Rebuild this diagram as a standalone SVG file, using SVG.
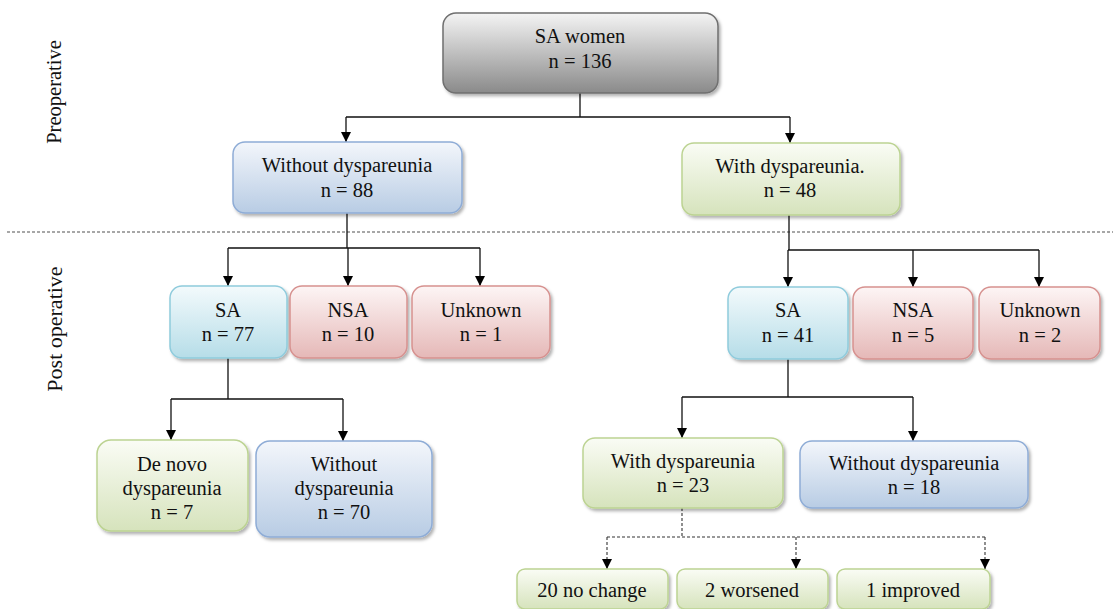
<svg xmlns="http://www.w3.org/2000/svg" width="1113" height="609" viewBox="0 0 1113 609">
<style>
text{font-family:"Liberation Serif","Times New Roman",serif;font-size:20.5px;fill:#111;text-anchor:middle}
.box{stroke-width:1.5}
.gray{fill:url(#gGray);stroke:#6f6f6f}
.blue{fill:url(#gBlue);stroke:#8eacd6}
.green{fill:url(#gGreen);stroke:#bcd392}
.cyan{fill:url(#gCyan);stroke:#8fcbdc}
.red{fill:url(#gRed);stroke:#d6918f}
.ln{fill:none;stroke:#111;stroke-width:1.3}
.dash{fill:none;stroke:#333;stroke-width:1.1;stroke-dasharray:3,2}
.sep{fill:none;stroke:#8a8a8a;stroke-width:1.5;stroke-dasharray:3,2}
</style>
<defs>
<linearGradient id="gGray" x1="0" y1="0" x2="0" y2="1"><stop offset="0" stop-color="#f4f4f4"/><stop offset="1" stop-color="#8a8a8a"/></linearGradient>
<linearGradient id="gBlue" x1="0" y1="0" x2="0" y2="1"><stop offset="0" stop-color="#f3f6fb"/><stop offset="1" stop-color="#b8cce4"/></linearGradient>
<linearGradient id="gGreen" x1="0" y1="0" x2="0" y2="1"><stop offset="0" stop-color="#fafcf5"/><stop offset="1" stop-color="#d6e3bc"/></linearGradient>
<linearGradient id="gCyan" x1="0" y1="0" x2="0" y2="1"><stop offset="0" stop-color="#f3fafc"/><stop offset="1" stop-color="#b6dde8"/></linearGradient>
<linearGradient id="gRed" x1="0" y1="0" x2="0" y2="1"><stop offset="0" stop-color="#fdf5f5"/><stop offset="1" stop-color="#e5b8b7"/></linearGradient>
<filter id="sh" x="-10%" y="-10%" width="125%" height="130%"><feDropShadow dx="2" dy="2.5" stdDeviation="1.5" flood-color="#000" flood-opacity="0.3"/></filter>
<marker id="ar" viewBox="0 0 10 10" refX="10" refY="5" markerWidth="10" markerHeight="10" markerUnits="userSpaceOnUse" orient="auto"><path d="M0,0 L10,5 L0,10 Z" fill="#000"/></marker>
</defs>

<text transform="translate(61,92) rotate(-90)">Preoperative</text>
<text transform="translate(62,329) rotate(-90)" style="font-size:22px">Post operative</text>
<line class="sep" x1="7" y1="232" x2="1113" y2="232"/>

<g id="connectors">
<path class="ln" d="M580,93 V117 M346,117 H790"/>
<path class="ln" d="M346,117 V142" marker-end="url(#ar)"/>
<path class="ln" d="M790,117 V143" marker-end="url(#ar)"/>
<path class="ln" d="M347,213 V248 M228,248 H480"/>
<path class="ln" d="M228,248 V286" marker-end="url(#ar)"/>
<path class="ln" d="M348,248 V286" marker-end="url(#ar)"/>
<path class="ln" d="M480,248 V286" marker-end="url(#ar)"/>
<path class="ln" d="M789,215 V250 M788,250 H1039"/>
<path class="ln" d="M788,250 V287" marker-end="url(#ar)"/>
<path class="ln" d="M913,250 V287" marker-end="url(#ar)"/>
<path class="ln" d="M1039,250 V287" marker-end="url(#ar)"/>
<path class="ln" d="M228,358 V399 M171,399 H343"/>
<path class="ln" d="M171,399 V440" marker-end="url(#ar)"/>
<path class="ln" d="M343,399 V441" marker-end="url(#ar)"/>
<path class="ln" d="M788,359 V397 M682,397 H913"/>
<path class="ln" d="M682,397 V438" marker-end="url(#ar)"/>
<path class="ln" d="M913,397 V441" marker-end="url(#ar)"/>
<path class="dash" d="M682,508 V537 M607,537 H985"/>
<path class="dash" d="M607,537 V569" marker-end="url(#ar)"/>
<path class="dash" d="M796,537 V569" marker-end="url(#ar)"/>
<path class="dash" d="M985,537 V569" marker-end="url(#ar)"/>
</g>

<g id="sa-women"><rect class="box gray" x="443" y="13" width="275" height="80" rx="13" filter="url(#sh)"/><text x="580" y="43">SA women</text><text x="580" y="68">n = 136</text></g>
<g id="pre-without"><rect class="box blue" x="233" y="142" width="229" height="71" rx="12" filter="url(#sh)"/><text x="347" y="172">Without dyspareunia</text><text x="347" y="197">n = 88</text></g>
<g id="pre-with"><rect class="box green" x="682" y="143" width="218" height="72" rx="12" filter="url(#sh)"/><text x="790" y="173">With dyspareunia.</text><text x="790" y="197">n = 48</text></g>

<g id="l-sa"><rect class="box cyan" x="170" y="286" width="117" height="72" rx="12" filter="url(#sh)"/><text x="228" y="317">SA</text><text x="228" y="341">n = 77</text></g>
<g id="l-nsa"><rect class="box red" x="290" y="286" width="117" height="72" rx="12" filter="url(#sh)"/><text x="348" y="317">NSA</text><text x="348" y="341">n = 10</text></g>
<g id="l-unknown"><rect class="box red" x="412" y="286" width="138" height="72" rx="12" filter="url(#sh)"/><text x="481" y="317">Unknown</text><text x="481" y="341">n = 1</text></g>

<g id="r-sa"><rect class="box cyan" x="728" y="287" width="120" height="72" rx="12" filter="url(#sh)"/><text x="788" y="317">SA</text><text x="788" y="342">n = 41</text></g>
<g id="r-nsa"><rect class="box red" x="853" y="287" width="120" height="72" rx="12" filter="url(#sh)"/><text x="913" y="317">NSA</text><text x="913" y="342">n = 5</text></g>
<g id="r-unknown"><rect class="box red" x="979" y="287" width="121" height="72" rx="12" filter="url(#sh)"/><text x="1040" y="317">Unknown</text><text x="1040" y="342">n = 2</text></g>

<g id="denovo"><rect class="box green" x="97" y="440" width="151" height="91" rx="14" filter="url(#sh)"/><text x="172" y="471">De novo</text><text x="172" y="495">dyspareunia</text><text x="172" y="519">n = 7</text></g>
<g id="l-without"><rect class="box blue" x="256" y="441" width="176" height="96" rx="14" filter="url(#sh)"/><text x="344" y="471">Without</text><text x="344" y="495">dyspareunia</text><text x="344" y="519">n = 70</text></g>

<g id="r-with"><rect class="box green" x="583" y="438" width="200" height="70" rx="12" filter="url(#sh)"/><text x="683" y="468">With dyspareunia</text><text x="683" y="492">n = 23</text></g>
<g id="r-without"><rect class="box blue" x="800" y="441" width="228" height="67" rx="12" filter="url(#sh)"/><text x="914" y="470">Without dyspareunia</text><text x="914" y="494">n = 18</text></g>

<g id="nochange"><rect class="box green" x="517" y="569" width="151" height="40" rx="8" filter="url(#sh)"/><text x="592" y="597">20 no change</text></g>
<g id="worsened"><rect class="box green" x="677" y="569" width="151" height="40" rx="8" filter="url(#sh)"/><text x="752" y="597">2 worsened</text></g>
<g id="improved"><rect class="box green" x="837" y="569" width="153" height="40" rx="8" filter="url(#sh)"/><text x="913" y="597">1 improved</text></g>
</svg>
